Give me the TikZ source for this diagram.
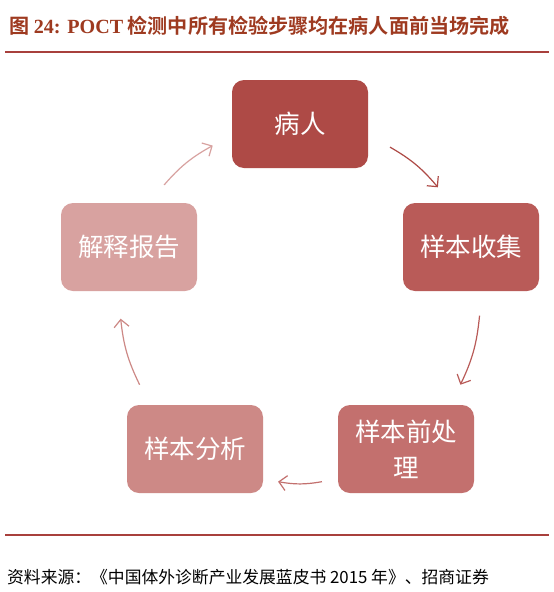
\documentclass[tikz,border=0pt]{standalone}
\usepackage{fontspec}
\newfontfamily\cjk{Noto Sans CJK SC}
\newfontfamily\cjkb{Noto Sans CJK SC Bold}
\newfontfamily\lserif{Liberation Serif}
\usetikzlibrary{arrows.meta,calc}
\definecolor{ttl}{HTML}{9E3A20}
\definecolor{rule}{HTML}{A8403C}
\definecolor{cA}{HTML}{AE4A46}
\definecolor{cB}{HTML}{B95B58}
\definecolor{cC}{HTML}{C3706E}
\definecolor{cD}{HTML}{CD8986}
\definecolor{cE}{HTML}{D8A2A0}
\tikzset{
  stepbox/.style={rounded corners=12pt, minimum width=136pt, minimum height=88pt,
    text=white, font=\cjk\fontsize{25.5}{36}\selectfont, align=center, inner sep=4pt},
  arr/.style={line width=1.2pt, -{Straight Barb[length=7.5pt,width=15pt,line width=1.2pt]}, bend left=10}
}
\begin{document}
\begin{tikzpicture}[x=1pt,y=-1pt]
\useasboundingbox (0,0) rectangle (554,592);
\fill[white] (0,0) rectangle (554,592);
% title
\node[anchor=west, text=ttl, inner sep=0] (title) at (9,26)
  {\cjkb\fontsize{20.1}{24}\selectfont 图 {\lserif\bfseries 24: POCT} 检测中所有检验步骤均在病人面前当场完成};
\draw[rule, line width=2pt] (5,52) -- (549,52);
\draw[rule, line width=2pt] (5,535) -- (549,535);
\node[anchor=west, inner sep=0] (src) at (7,577)
  {\cjk\fontsize{16.8}{20}\selectfont 资料来源：《中国体外诊断产业发展蓝皮书 2015 年》、招商证券};
% nodes
\node[stepbox, fill=cA] (n1) at (300,124) {病人};
\node[stepbox, fill=cB] (n2) at (471,247) {样本收集};
\node[stepbox, fill=cC] (n3) at (406,449) {样本前处\\理};
\node[stepbox, fill=cD] (n4) at (195,449) {样本分析};
\node[stepbox, fill=cE] (n5) at (129,247) {解释报告};
% arrow coordinates on circle centred at (300,303), r=180
\coordinate (c) at (300,303);
\coordinate (a1s) at ($(c)+(180*cos 60,-180*sin 60)$);
\coordinate (a1e) at ($(c)+(180*cos 40,-180*sin 40)$);
\coordinate (a2s) at ($(c)+(180*cos -4,-180*sin -4)$);
\coordinate (a2e) at ($(c)+(180*cos -27,-180*sin -27)$);
\coordinate (a3s) at ($(c)+(180*cos -83,-180*sin -83)$);
\coordinate (a3e) at ($(c)+(180*cos -97,-180*sin -97)$);
\coordinate (a4s) at ($(c)+(180*cos 207,-180*sin 207)$);
\coordinate (a4e) at ($(c)+(180*cos 185,-180*sin 185)$);
\coordinate (a5s) at ($(c)+(180*cos 139,-180*sin 139)$);
\coordinate (a5e) at ($(c)+(180*cos 119,-180*sin 119)$);
\draw[arr, draw=cA] (a1s) to (a1e);
\draw[arr, draw=cB] (a2s) to (a2e);
\draw[arr, draw=cC] (a3s) to (a3e);
\draw[arr, draw=cD] (a4s) to (a4e);
\draw[arr, draw=cE] (a5s) to (a5e);
\end{tikzpicture}
\end{document}
